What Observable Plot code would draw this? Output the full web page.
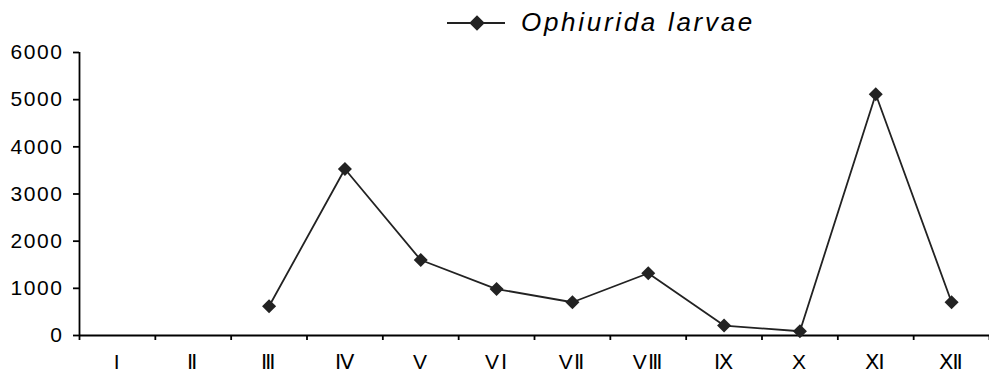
<!DOCTYPE html>
<html>
<head>
<meta charset="utf-8">
<script src="https://cdn.jsdelivr.net/npm/d3@7"></script>
<script src="https://cdn.jsdelivr.net/npm/@observablehq/plot@0.6"></script>
<style>
  body { margin: 0; background: #fff; font-family: "Liberation Sans", Arial, sans-serif; }
  #legend { position: relative; width: 989px; height: 40px; }
  #legend svg.key { position: absolute; left: 445px; top: 14px; }
  #legend span { position: absolute; left: 521px; top: 9px; font-size: 26px; line-height: 1; font-style: italic; letter-spacing: 2.7px; color: #000; }
  #chart svg text { letter-spacing: 1.6px; }
</style>
</head>
<body>
<div id="legend">
  <svg class="key" width="62" height="20">
    <line x1="2" y1="9" x2="60" y2="9" stroke="#222" stroke-width="1.8"></line>
    <rect x="26.5" y="3.5" width="11" height="11" fill="#222" transform="rotate(45 32 9)"></rect>
  </svg>
  <span>Ophiurida larvae</span>
</div>
<div id="chart"></div>
<script>
const months = ["I", "Ⅱ", "Ⅲ", "Ⅳ", "V", "VⅠ", "VⅡ", "VⅢ", "Ⅸ", "X", "Ⅺ", "Ⅻ"];
const values = [null, null, 620, 3530, 1600, 985, 705, 1320, 210, 90, 5115, 705];
const yTicks = [0, 1000, 2000, 3000, 4000, 5000, 6000];
const seriesName = "Ophiurida larvae";

const data = months.map((m, i) => ({pos: i + 0.5, month: m, value: values[i]}));
const present = data.filter(d => d.value != null);

const chart = Plot.plot({
  width: 989,
  height: 334,
  marginTop: 12,
  marginBottom: 39,
  marginLeft: 79,
  marginRight: 0,
  style: {fontFamily: "'Liberation Sans', Arial, sans-serif", fontSize: "21px", color: "#000", background: "#fff"},
  x: {domain: [0, 12], axis: null},
  y: {domain: [0, 6000], axis: null},
  marks: [
    Plot.axisY({ticks: yTicks, tickSize: 6, tickPadding: 10, tickFormat: d3.format("d"), label: null, stroke: "#000", strokeWidth: 1.8, fontSize: 21}),
    Plot.axisX({ticks: d3.range(0, 13), tickSize: 5, tickFormat: () => "", label: null, stroke: "#000", strokeWidth: 1.8}),
    Plot.axisX({ticks: data.map(d => d.pos), tickSize: 0, tickPadding: 19, tickFormat: (d) => months[Math.round(d - 0.5)], label: null, fontSize: 21}),
    Plot.ruleX([0], {stroke: "#000", strokeWidth: 1.8}),
    Plot.ruleY([0], {stroke: "#000", strokeWidth: 1.8}),
    Plot.line(present, {x: "pos", y: "value", stroke: "#222", strokeWidth: 1.8}),
    Plot.dot(present, {x: "pos", y: "value", symbol: "square", r: 5.6, rotate: 45, fill: "#222", stroke: "none", title: d => `${seriesName}: ${d.value}`})
  ]
});
document.getElementById("chart").appendChild(chart);
</script>
</body>
</html>
